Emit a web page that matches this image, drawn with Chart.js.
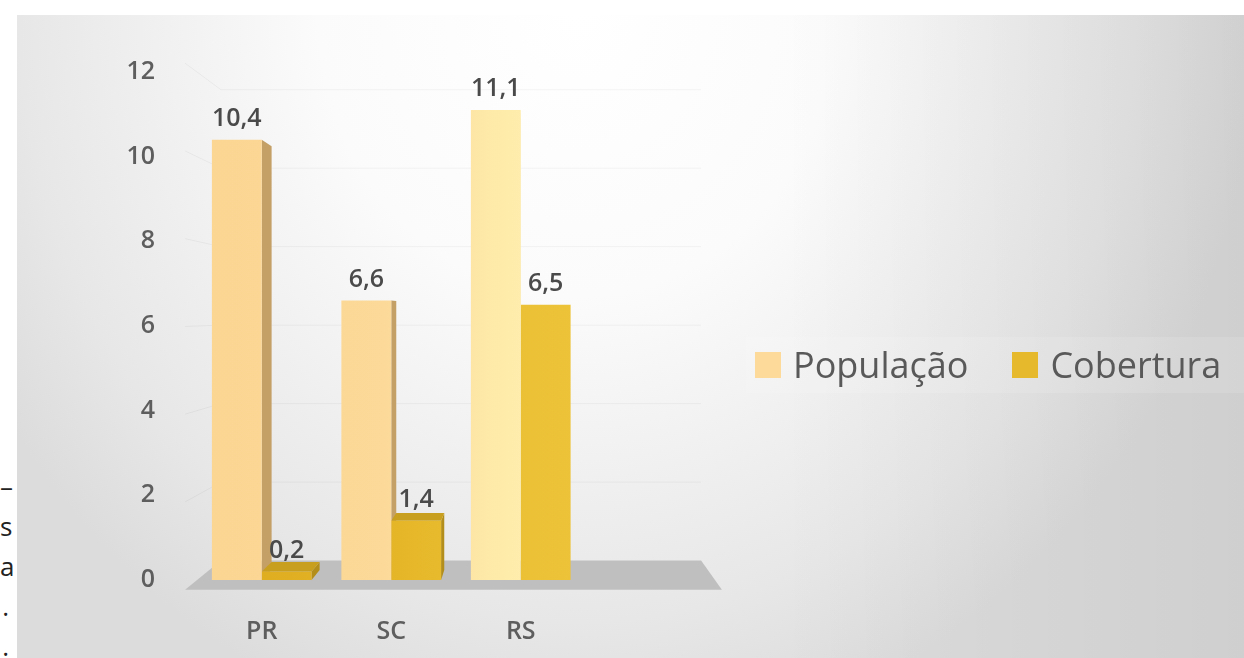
<!DOCTYPE html>
<html lang="pt">
<head>
<meta charset="utf-8">
<script src="https://cdn.jsdelivr.net/npm/chart.js@4.4.1/dist/chart.umd.min.js"></script>
<style>
  html, body { margin: 0; padding: 0; background: #ffffff; }
  body { width: 1244px; height: 658px; position: relative; overflow: hidden; font-family: "Open Sans", sans-serif; }
  #cut {
    position: absolute; left: 0; top: 466px; width: 9px;
    text-align: right; font-size: 26px; line-height: 40px; color: #222;
    white-space: nowrap;
  }
  #panel {
    position: absolute; left: 17px; top: 15px; width: 1227px; height: 643px;
    background:
      linear-gradient(to right, rgba(0,0,0,0) 62%, rgba(0,0,0,0.06) 100%),
      radial-gradient(ellipse 680px 740px at 560px 0px, #ffffff 0%, #fbfbfb 38%, #e7e7e7 82%, #dcdcdc 100%);
  }
  #chart { position: absolute; left: 0; top: 0; }
  #legend {
    position: absolute; left: 729px; right: 0; top: 322px; height: 56px;
    display: flex; align-items: center;
    background: rgba(255,255,255,0.12);
    padding-left: 9px;
  }
  #legend .item { display: flex; align-items: center; margin-right: 44px; }
  #legend .item:last-child { margin-right: 0; }
  #legend .box { width: 26px; height: 26px; margin-right: 12px; }
  #legend .txt { font-size: 36px; color: #595959; line-height: 46px; }
</style>
</head>
<body>
<div id="cut">–<br>s<br>a<br>.<br>.</div>
<div id="panel">
  <canvas id="chart" width="1227" height="643"></canvas>
  <div id="legend"></div>
</div>
<script>
// dados
var categorias = ["PR", "SC", "RS", ""];
var populacao = [10.4, 6.6, 11.1, null];
var cobertura = [0.2, 1.4, 6.5, null];
var yMax = 12;
var yStep = 2;

var SERIES_NAMES = ["População", "Cobertura"];
var SWATCH = ["#fdd99a", "#e6b82c"];
var SIDE = ["#c4a067", "#b38e1a"];
var TOP = ["#ead0a0", "#c99f1f"];

// perspective: depth s per bar-depth unit, vanishing point relative to chart area
var DEPTH = 0.0375;

function vanish(area) {
    return {
        x: area.left + (area.right - area.left) * 0.633,
        y: area.top + (area.bottom - area.top) * 0.477
    };
}

function project(v, x, y, t) {
    var k = 1 - DEPTH * t;
    return [v.x + (x - v.x) * k, v.y + (y - v.y) * k];
}

function poly(ctx, pts, fill) {
    ctx.beginPath();
    ctx.moveTo(pts[0][0], pts[0][1]);
    for (var i = 1; i < pts.length; i++) {
        ctx.lineTo(pts[i][0], pts[i][1]);
    }
    ctx.closePath();
    ctx.fillStyle = fill;
    ctx.fill();
}

function barGradient(stops) {
    return function(context) {
        var area = context.chart.chartArea;
        if (!area) {
            return stops[1][1];
        }
        var g = context.chart.ctx.createLinearGradient(area.left, 0, area.right, 0);
        for (var i = 0; i < stops.length; i++) {
            g.addColorStop(stops[i][0], stops[i][1]);
        }
        return g;
    };
}

var box3d = {
    id: "box3d",
    beforeDatasetsDraw: function(chart) {
        var ctx = chart.ctx;
        var area = chart.chartArea;
        var v = vanish(area);
        var yScale = chart.scales.y;
        var front = -0.97, back = 1.95;

        ctx.save();
        // faint grid on side wall and back wall
        ctx.strokeStyle = "rgba(0,0,0,0.045)";
        ctx.lineWidth = 1;
        yScale.ticks.forEach(function(tick) {
            var y = yScale.getPixelForValue(tick.value);
            if (tick.value === 0) {
                return;
            }
            var a = project(v, area.left, y, front);
            var b = project(v, area.left, y, back);
            var c = project(v, area.right, y, back);
            ctx.beginPath();
            ctx.moveTo(a[0], a[1]);
            ctx.lineTo(b[0], b[1]);
            ctx.lineTo(c[0], c[1]);
            ctx.stroke();
        });

        // floor
        poly(ctx, [
            project(v, area.left, area.bottom, front),
            project(v, area.right, area.bottom, front),
            project(v, area.right, area.bottom, back),
            project(v, area.left, area.bottom, back)
        ], "#bfbfbf");

        // side and top faces of the bars
        chart.data.datasets.forEach(function(ds, di) {
            var meta = chart.getDatasetMeta(di);
            meta.data.forEach(function(el, i) {
                if (ds.data[i] === null) {
                    return;
                }
                var x0 = el.x - el.width / 2, x1 = el.x + el.width / 2;
                var y0 = el.y, y1 = el.base;
                if (x1 < v.x) {
                    poly(ctx, [[x1, y0], project(v, x1, y0, 1), project(v, x1, y1, 1), [x1, y1]], SIDE[di]);
                }
                if (x0 > v.x) {
                    poly(ctx, [[x0, y0], project(v, x0, y0, 1), project(v, x0, y1, 1), [x0, y1]], SIDE[di]);
                }
                if (y0 > v.y) {
                    poly(ctx, [[x0, y0], [x1, y0], project(v, x1, y0, 1), project(v, x0, y0, 1)], TOP[di]);
                }
            });
        });
        ctx.restore();
    },
    afterDatasetsDraw: function(chart) {
        var ctx = chart.ctx;
        ctx.save();
        ctx.font = "600 25px 'Open Sans'";
        ctx.fillStyle = "#4a4a4a";
        ctx.textAlign = "center";
        ctx.textBaseline = "middle";
        chart.data.datasets.forEach(function(ds, di) {
            var meta = chart.getDatasetMeta(di);
            meta.data.forEach(function(el, i) {
                if (ds.data[i] === null) {
                    return;
                }
                ctx.fillText(ds.data[i].toFixed(1).replace(".", ","), el.x, el.y - 21);
            });
        });
        ctx.restore();
    }
};

var htmlLegend = {
    id: "htmlLegend",
    afterUpdate: function(chart) {
        var host = document.getElementById("legend");
        host.innerHTML = "";
        chart.data.datasets.forEach(function(ds, i) {
            var item = document.createElement("div");
            item.className = "item";
            var box = document.createElement("span");
            box.className = "box";
            box.style.background = SWATCH[i];
            var txt = document.createElement("span");
            txt.className = "txt";
            txt.textContent = ds.label;
            item.appendChild(box);
            item.appendChild(txt);
            host.appendChild(item);
        });
    }
};

var tickFont = { family: "Open Sans", size: 25, weight: "600" };

new Chart(document.getElementById("chart"), {
    type: "bar",
    data: {
        labels: categorias,
        datasets: [{
            label: SERIES_NAMES[0],
            data: populacao,
            backgroundColor: barGradient([[0, "#fbd592"], [0.36, "#fcd998"], [0.6, "#feecab"], [1, "#fff3b8"]]),
            borderWidth: 0,
            categoryPercentage: 0.77,
            barPercentage: 1.0
        }, {
            label: SERIES_NAMES[1],
            data: cobertura,
            backgroundColor: barGradient([[0, "#dcab1e"], [0.36, "#e4b526"], [0.6, "#ebc035"], [1, "#f0c840"]]),
            borderWidth: 0,
            categoryPercentage: 0.77,
            barPercentage: 1.0
        }]
    },
    options: {
        responsive: false,
        animation: false,
        layout: { padding: { left: 0, top: 45, right: 529, bottom: 0 } },
        plugins: {
            legend: { display: false },
            tooltip: { enabled: false }
        },
        scales: {
            x: {
                grid: { display: false, drawTicks: false },
                border: { display: false },
                ticks: { color: "#5e5e5e", font: tickFont, padding: 37 },
                afterFit: function(scale) { scale.height = 78; }
            },
            y: {
                min: 0,
                max: yMax,
                grid: { display: false, drawTicks: false },
                border: { display: false },
                ticks: { stepSize: yStep, color: "#5e5e5e", font: tickFont, padding: 42 },
                afterFit: function(scale) { scale.width = 180; }
            }
        }
    },
    plugins: [box3d, htmlLegend]
});
</script>
</body>
</html>
